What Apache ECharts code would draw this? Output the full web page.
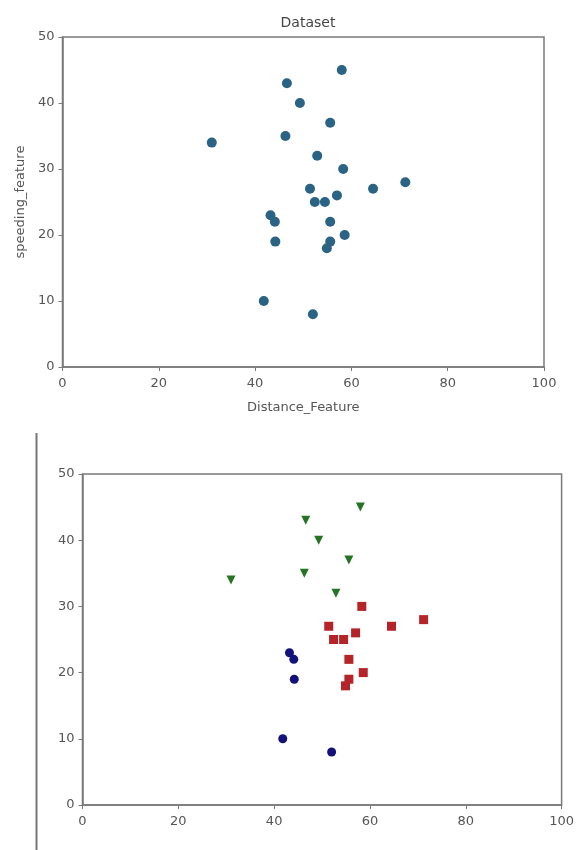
<!DOCTYPE html>
<html>
<head>
<meta charset="utf-8">
<title>Dataset</title>
<script src="https://cdn.jsdelivr.net/npm/echarts@6/dist/echarts.min.js"></script>
<style>
  html, body { margin: 0; padding: 0; background: #fff; }
  #chart { width: 577px; height: 850px; }
</style>
</head>
<body>
<div id="chart"></div>
<script>
// all points (distance, speeding)
const allPoints = [
  [31.0, 34], [46.6, 43], [58.0, 45], [49.3, 40], [55.6, 37], [46.3, 35],
  [52.9, 32], [58.3, 30], [51.4, 27], [64.5, 27], [71.2, 28], [57.0, 26],
  [52.4, 25], [54.5, 25], [43.2, 23], [44.1, 22], [55.6, 22], [58.6, 20],
  [44.2, 19], [55.6, 19], [54.9, 18], [41.8, 10], [52.0, 8]
];

// clusters
const clusterGreen = [
  [31.0, 34], [46.6, 43], [58.0, 45], [49.3, 40], [55.6, 37], [46.3, 35], [52.9, 32]
];
const clusterRed = [
  [58.3, 30], [51.4, 27], [64.5, 27], [71.2, 28], [57.0, 26], [52.4, 25],
  [54.5, 25], [55.6, 22], [58.6, 20], [55.6, 19], [54.9, 18]
];
const clusterBlue = [
  [43.2, 23], [44.1, 22], [44.2, 19], [41.8, 10], [52.0, 8]
];

const xTicks = [0, 20, 40, 60, 80, 100];
const yTicks = [0, 10, 20, 30, 40, 50];

const axisGray = "#7a7a7a";
const labelGray = "#555";
const font = "DejaVu Sans";

function makeX(gridIndex, name) {
  return {
    gridIndex: gridIndex,
    type: "value",
    min: xTicks[0],
    max: xTicks[xTicks.length - 1],
    interval: xTicks[1] - xTicks[0],
    name: name,
    nameLocation: "middle",
    nameGap: 34,
    nameTextStyle: { color: labelGray, fontSize: 13, fontFamily: font },
    axisLine: { show: true, onZero: false, lineStyle: { color: axisGray, width: 1.5 } },
    axisTick: { show: true, length: 4, lineStyle: { color: axisGray } },
    axisLabel: { color: labelGray, fontSize: 13, fontFamily: font, margin: 10 },
    splitLine: { show: false },
  };
}

function makeY(gridIndex, name) {
  return {
    gridIndex: gridIndex,
    type: "value",
    min: yTicks[0],
    max: yTicks[yTicks.length - 1],
    interval: yTicks[1] - yTicks[0],
    name: name,
    nameLocation: "middle",
    nameGap: 34,
    nameRotate: 90,
    nameTextStyle: { color: labelGray, fontSize: 13, fontFamily: font },
    axisLine: { show: true, onZero: false, lineStyle: { color: axisGray, width: 1.5 } },
    axisTick: { show: true, length: 4, lineStyle: { color: axisGray } },
    axisLabel: { color: labelGray, fontSize: 13, fontFamily: font, margin: 8 },
    splitLine: { show: false },
  };
}

const chart = echarts.init(document.getElementById("chart"));

const option = {
  animation: false,
  backgroundColor: "#fff",
  title: {
    text: "Dataset",
    left: 303,
    top: 11,
    textAlign: "center",
    textStyle: { color: "#444", fontSize: 14, fontWeight: "normal", fontFamily: font },
  },
  grid: [
    { left: 62.5, top: 37, width: 481.5, height: 330, show: true,
      borderColor: axisGray, borderWidth: 1.5, backgroundColor: "#fff" },
    { left: 82.5, top: 474, width: 481, height: 331, show: true,
      borderColor: axisGray, borderWidth: 1.5, backgroundColor: "#fff" },
  ],
  xAxis: [makeX(0, "Distance_Feature"), makeX(1, "")],
  yAxis: [makeY(0, "speeding_feature"), makeY(1, "")],
  // cell border line on the left of the second figure
  graphic: [
    {
      type: "line",
      shape: { x1: 36.5, y1: 433, x2: 36.5, y2: 850 },
      style: { stroke: "#777", lineWidth: 2 },
    },
  ],
  series: [
    {
      name: "dataset",
      type: "scatter",
      xAxisIndex: 0,
      yAxisIndex: 0,
      symbol: "circle",
      symbolSize: 10,
      itemStyle: { color: "#2a6383", opacity: 1 },
      data: allPoints,
    },
    {
      name: "cluster green",
      type: "scatter",
      xAxisIndex: 1,
      yAxisIndex: 1,
      symbol: "triangle",
      symbolRotate: 180,
      symbolSize: 9,
      itemStyle: { color: "#257325", opacity: 1 },
      data: clusterGreen,
    },
    {
      name: "cluster red",
      type: "scatter",
      xAxisIndex: 1,
      yAxisIndex: 1,
      symbol: "rect",
      symbolSize: 9,
      itemStyle: { color: "#b52428", opacity: 1 },
      data: clusterRed,
    },
    {
      name: "cluster blue",
      type: "scatter",
      xAxisIndex: 1,
      yAxisIndex: 1,
      symbol: "circle",
      symbolSize: 9,
      itemStyle: { color: "#12127a", opacity: 1 },
      data: clusterBlue,
    },
  ],
};

chart.setOption(option);
</script>
</body>
</html>
